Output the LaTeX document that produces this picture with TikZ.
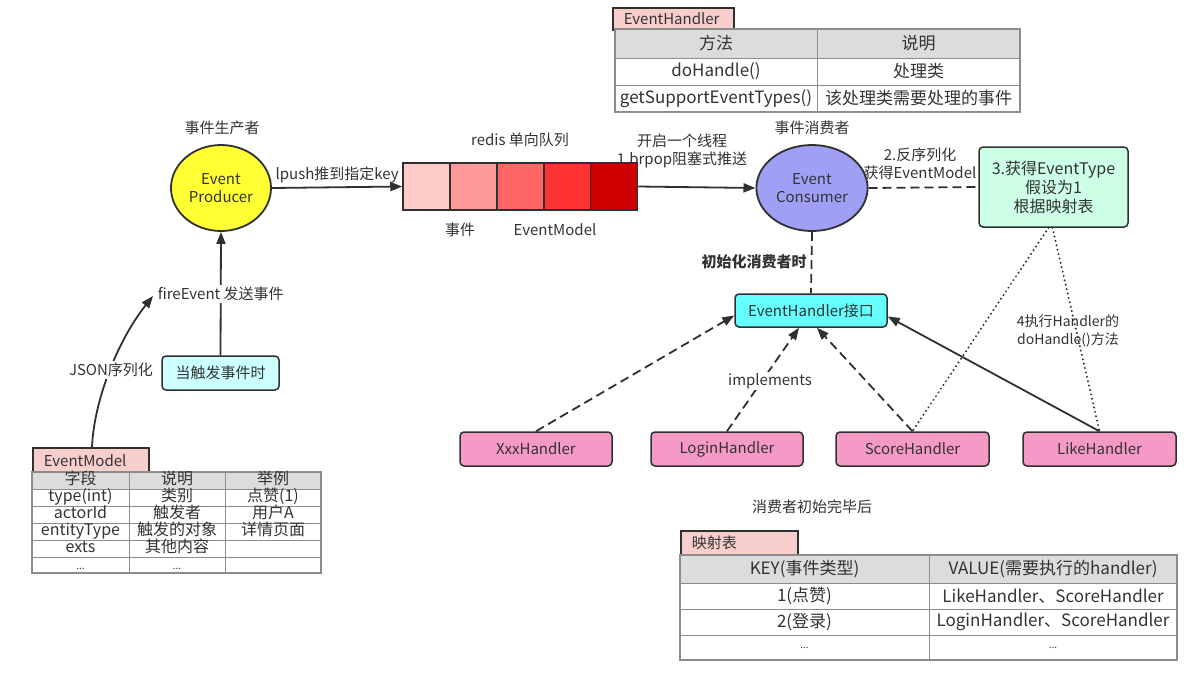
\documentclass[tikz,border=0pt]{standalone}
\usepackage{fontspec}
\setmainfont{Noto Sans CJK SC}
\usetikzlibrary{shapes.geometric,arrows.meta}
\definecolor{txt}{HTML}{333333}
\definecolor{ln}{HTML}{303030}
\definecolor{tabfill}{HTML}{F8CECC}
\definecolor{hdr}{HTML}{DCDCDC}
\definecolor{tbl}{HTML}{8C8C8C}
\definecolor{prodfill}{HTML}{FFFF33}
\definecolor{consfill}{HTML}{9F9FF5}
\definecolor{greenfill}{HTML}{CCFFE6}
\definecolor{ifacefill}{HTML}{66FFFF}
\definecolor{trigfill}{HTML}{CCFFFF}
\definecolor{hfill}{HTML}{F59AC7}
\definecolor{qa}{HTML}{FFCCCC}
\definecolor{qb}{HTML}{FF9999}
\definecolor{qc}{HTML}{FF6666}
\definecolor{qd}{HTML}{FF3333}
\definecolor{qe}{HTML}{CC0000}
\tikzset{
  lbl/.style={font=\fontsize{15}{18}\selectfont, text=txt, inner sep=1pt},
  tlbl/.style={font=\fontsize{17}{19}\selectfont, text=txt, inner sep=0pt},
  slbl/.style={font=\fontsize{16}{16}\selectfont, text=txt, inner sep=0pt, text height=10.5pt, text depth=3pt},
  arr/.style={draw=ln, line width=1.8pt, -{Triangle[length=12pt,width=9pt]}},
  darr/.style={draw=ln, line width=1.8pt, dash pattern=on 9pt off 5pt, -{Triangle[length=12pt,width=9pt]}},
  dline/.style={draw=ln, line width=1.8pt, dash pattern=on 9pt off 5pt},
  dotline/.style={draw=ln, line width=2.2pt, line cap=round, dash pattern=on 0pt off 4.5pt},
  ell/.style={ellipse, draw=ln, line width=1.8pt, minimum width=96pt, minimum height=86pt, align=center, font=\fontsize{15}{18}\selectfont, text=txt},
  rbox/.style={draw=ln, line width=1.5pt, rounded corners=4pt, align=center, font=\fontsize{15}{18}\selectfont, text=txt, inner sep=0pt},
  qcell/.style={draw=ln, line width=1.5pt, minimum width=47pt, minimum height=47pt, inner sep=0pt},
  tab/.style={draw=ln, line width=1.5pt, fill=tabfill, inner xsep=11pt, inner ysep=0pt, align=left, font=\fontsize{15}{18}\selectfont, text=txt, anchor=north west},
}
\begin{document}
\begin{tikzpicture}[x=1pt,y=-1pt]
\useasboundingbox[fill=white] (0,0) rectangle (1195,681);

% ---------- EventHandler table ----------
\node[tab, text width=99pt, minimum height=22pt] (ehtab) at (612,7) {EventHandler};
\fill[hdr] (615,29) rectangle (1020,58);
\draw[tbl, line width=1pt] (615,58) -- (1020,58) (615,85) -- (1020,85) (817,29) -- (817,112);
\draw[tbl, line width=2pt] (615,29) rectangle (1020,112);
\node[tlbl] (eh11) at (716,43.5) {方法};
\node[tlbl] (eh12) at (918.5,43.5) {说明};
\node[tlbl] (eh21) at (716,71.5) {doHandle()};
\node[tlbl] (eh22) at (918.5,71.5) {处理类};
\node[tlbl] (eh31) at (716,98.5) {getSupportEventTypes()};
\node[tlbl] (eh32) at (918.5,98.5) {该处理类需要处理的事件};

% ---------- producer / queue / consumer ----------
\node[lbl] (prodlbl) at (222,128) {事件生产者};
\node[ell, fill=prodfill] (prod) at (221,188) {Event\\Producer};

\node[lbl] (qlbl) at (520,140) {redis 单向队列};
\node[qcell, fill=qa] (q1) at (426.5,186.5) {};
\node[qcell, fill=qb] (q2) at (473.5,186.5) {};
\node[qcell, fill=qc] (q3) at (520.5,186.5) {};
\node[qcell, fill=qd] (q4) at (567.5,186.5) {};
\node[qcell, fill=qe] (q5) at (614,186.5) {};
\node[lbl] (qev) at (460,230) {事件};
\node[lbl] (qem) at (555,230) {EventModel};

\node[lbl] (conslbl) at (812,128) {事件消费者};
\node[ell, fill=consfill] (cons) at (812,188) {Event\\Consumer};

\node[rbox, fill=greenfill, minimum width=149pt, minimum height=80pt, font=\fontsize{16}{19}\selectfont] (green) at (1053.5,187) {3.获得EventType\\假设为1\\根据映射表};

\draw[arr] (prod.east) -- (q1.west) node[lbl, midway, above=2pt] (lpush) {lpush推到指定key};
\draw[arr] (q5.east) -- (cons.west);
\node[lbl, align=center] (brpop) at (682,151) {开启一个线程\\1.brpop阻塞式推送};
\draw[dline] (cons.east) -- (green.west);
\node[lbl, align=center] (deser) at (920,164) {2.反序列化\\获得EventModel};

% ---------- interface and handlers ----------
\node[rbox, fill=ifacefill, minimum width=152pt, minimum height=33pt] (iface) at (811,310.5) {EventHandler接口};
\draw[dline] (cons.south) -- (iface.north);
\node[lbl, font=\fontsize{15}{18}\selectfont\bfseries] (initlbl) at (754,262) {初始化消费者时};

\node[rbox, fill=hfill, minimum width=152pt, minimum height=34pt] (xxx) at (536,449) {XxxHandler};
\node[rbox, fill=hfill, minimum width=152pt, minimum height=34pt] (login) at (727,449) {LoginHandler};
\node[rbox, fill=hfill, minimum width=153pt, minimum height=34pt] (score) at (912.5,449) {ScoreHandler};
\node[rbox, fill=hfill, minimum width=153pt, minimum height=34pt] (like) at (1099.5,449) {LikeHandler};

\draw[darr] (xxx.north) -- ([yshift=-5pt]iface.west);
\draw[darr] (login.north) -- ([xshift=-12pt]iface.south);
\draw[darr] (score.north) -- ([xshift=6pt]iface.south);
\draw[arr] (like.north) -- ([yshift=-6pt]iface.east);
\node[lbl, fill=white] (impl) at (770,381) {implements};

\draw[dotline] ([xshift=-5pt]green.south) -- (score.north);
\draw[dotline] ([xshift=-1pt]green.south) -- (like.north);
\node[lbl, align=center, font=\fontsize{14}{18}\selectfont] (exec) at (1068,331) {4执行Handler的\\doHandle()方法};

% ---------- trigger / JSON ----------
\node[rbox, fill=trigfill, minimum width=117pt, minimum height=34pt] (trig) at (220.5,373) {当触发事件时};
\draw[arr] (trig.north) -- (prod.south) node[lbl, pos=0.5, fill=white, inner sep=2pt] (fire) {fireEvent 发送事件};

\node[tab, text width=94pt, minimum height=25pt] (emtab) at (32,447) {EventModel};
\coordinate (jsonstart) at (92,447);
\draw[arr] (jsonstart) .. controls (94,400) and (118,340) .. (153,296);
\node[lbl, fill=white, inner sep=2pt] (json) at (111,370) {JSON序列化};

% ---------- EventModel table ----------
\fill[hdr] (32,472) rectangle (321,489);
\draw[tbl, line width=1pt] (32,489) -- (321,489) (32,506) -- (321,506) (32,523) -- (321,523) (32,540) -- (321,540) (32,557) -- (321,557) (129,472) -- (129,573) (225,472) -- (225,573);
\draw[tbl, line width=2pt] (32,472) rectangle (321,573);
\node[slbl] (m11) at (80.5,480.5) {字段};
\node[slbl] (m12) at (177,480.5) {说明};
\node[slbl] (m13) at (273,480.5) {举例};
\node[slbl] (m21) at (80.5,497.5) {type(int)};
\node[slbl] (m22) at (177,497.5) {类别};
\node[slbl] (m23) at (273,497.5) {点赞(1)};
\node[slbl] (m31) at (80.5,514.5) {actorId};
\node[slbl] (m32) at (177,514.5) {触发者};
\node[slbl] (m33) at (273,514.5) {用户A};
\node[slbl] (m41) at (80.5,531.5) {entityType};
\node[slbl] (m42) at (177,531.5) {触发的对象};
\node[slbl] (m43) at (273,531.5) {详情页面};
\node[slbl] (m51) at (80.5,548.5) {exts};
\node[slbl] (m52) at (177,548.5) {其他内容};
\node[slbl, font=\fontsize{10}{10}\selectfont] (m61) at (80.5,566) {...};
\node[slbl, font=\fontsize{10}{10}\selectfont] (m62) at (177,566) {...};

% ---------- mapping table ----------
\node[lbl] (after) at (812,507) {消费者初始完毕后};
\node[tab, text width=95pt, minimum height=25pt] (maptab) at (680,530) {映射表};
\fill[hdr] (680,555) rectangle (1177,583);
\draw[tbl, line width=1pt] (680,583) -- (1177,583) (680,609) -- (1177,609) (680,635) -- (1177,635) (929,555) -- (929,660);
\draw[tbl, line width=2pt] (680,555) rectangle (1177,660);
\node[tlbl] (k11) at (804.5,569) {KEY(事件类型)};
\node[tlbl] (k12) at (1053,569) {VALUE(需要执行的handler)};
\node[tlbl] (k21) at (804.5,596) {1(点赞)};
\node[tlbl] (k22) at (1053,596) {LikeHandler、ScoreHandler};
\node[tlbl] (k31) at (804.5,622) {2(登录)};
\node[tlbl] (k32) at (1053,622) {LoginHandler、ScoreHandler};
\node[tlbl, font=\fontsize{10}{10}\selectfont] (k41) at (804.5,648) {...};
\node[tlbl, font=\fontsize{10}{10}\selectfont] (k42) at (1053,648) {...};
\end{tikzpicture}
\end{document}
